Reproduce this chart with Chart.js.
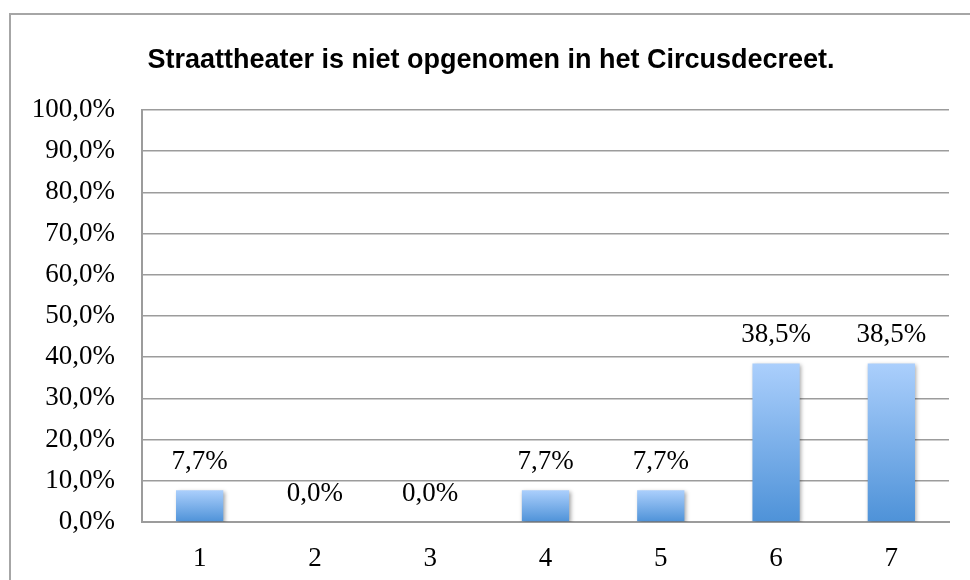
<!DOCTYPE html>
<html>
<head>
<meta charset="utf-8">
<script src="https://cdn.jsdelivr.net/npm/chart.js@4"></script>
<style>
  html, body { margin: 0; padding: 0; background: #fff; overflow: hidden; }
  #frame { position: absolute; left: 9px; top: 13px; width: 1000px; height: 600px; border: 2px solid #a6a6a6; box-sizing: border-box; }
  #wrap { position: absolute; left: 0; top: 0; width: 970px; height: 580px; }
</style>
</head>
<body>
<div id="frame"></div>
<div id="wrap"><canvas id="c" width="970" height="580"></canvas></div>
<script>
const titleText = 'Straattheater is niet opgenomen in het Circusdecreet.';
const categories = ['1', '2', '3', '4', '5', '6', '7'];
const percentages = [7.7, 0.0, 0.0, 7.7, 7.7, 38.5, 38.5];
const yTickMin = 0, yTickMax = 100, yTickStep = 10;

const SERIF = '"Liberation Serif", "Times New Roman", serif';
const FONT_SIZE = 27;
const fmt = v => v.toFixed(1).replace('.', ',') + '%';

function barGradient(ctx) {
  const chart = ctx.chart;
  const ys = chart.scales && chart.scales.y;
  if (!ys || !chart.chartArea || ctx.type !== 'data') return '#7fb1ea';
  const v = ctx.raw;
  const top = ys.getPixelForValue(v), bot = ys.getPixelForValue(0);
  if (!isFinite(top) || !isFinite(bot) || top === bot) return '#7fb1ea';
  const g = chart.ctx.createLinearGradient(0, top, 0, bot);
  g.addColorStop(0, '#abcffc');
  g.addColorStop(1, '#4e92d8');
  return g;
}

const shadowPlugin = {
  id: 'barShadow',
  beforeDatasetDraw(chart) {
    const c = chart.ctx;
    c.save();
    c.shadowColor = 'rgba(0,0,0,0.35)';
    c.shadowBlur = 4;
    c.shadowOffsetX = 1.5;
    c.shadowOffsetY = 1.5;
  },
  afterDatasetDraw(chart) { chart.ctx.restore(); }
};

const titlePlugin = {
  id: 'centeredTitle',
  afterDraw(chart) {
    const c = chart.ctx;
    c.save();
    c.font = 'bold 27px "Liberation Sans", Arial, sans-serif';
    c.fillStyle = '#000';
    c.textAlign = 'center';
    c.textBaseline = 'middle';
    c.fillText(titleText, 491, 61);
    c.restore();
  }
};

const labelPlugin = {
  id: 'valueLabels',
  afterDatasetsDraw(chart) {
    const c = chart.ctx;
    const meta = chart.getDatasetMeta(0);
    c.save();
    c.font = FONT_SIZE + 'px ' + SERIF;
    c.fillStyle = '#000';
    c.textAlign = 'center';
    c.textBaseline = 'middle';
    meta.data.forEach((bar, i) => {
      const v = chart.data.datasets[0].data[i];
      c.fillText(fmt(v), bar.x, bar.y - 28);
    });
    c.restore();
  }
};

new Chart(document.getElementById('c'), {
  type: 'bar',
  data: {
    labels: categories,
    datasets: [{
      data: percentages,
      backgroundColor: barGradient,
      borderWidth: 0,
      categoryPercentage: 1.0,
      barPercentage: 0.41
    }]
  },
  options: {
    responsive: false,
    animation: false,
    devicePixelRatio: 1,
    layout: { padding: { left: 0, right: 21, top: 110, bottom: 0 } },
    plugins: {
      legend: { display: false },
      tooltip: { enabled: false },
      title: { display: false }
    },
    scales: {
      x: {
        grid: { display: false, drawTicks: false },
        border: { display: true, color: '#9c9c9c', width: 2 },
        ticks: { color: '#000', font: { family: SERIF, size: FONT_SIZE }, padding: 21 },
        afterFit(s) { s.height = 58; }
      },
      y: {
        min: yTickMin, max: yTickMax,
        grid: { color: '#9c9c9c', lineWidth: 1.5, drawTicks: false },
        border: { display: true, color: '#9c9c9c', width: 2 },
        ticks: {
          stepSize: yTickStep,
          color: '#000',
          font: { family: SERIF, size: FONT_SIZE },
          padding: 27,
          callback: v => fmt(v)
        },
        afterFit(s) { s.width = 142; }
      }
    }
  },
  plugins: [shadowPlugin, labelPlugin, titlePlugin]
});
</script>
</body>
</html>
